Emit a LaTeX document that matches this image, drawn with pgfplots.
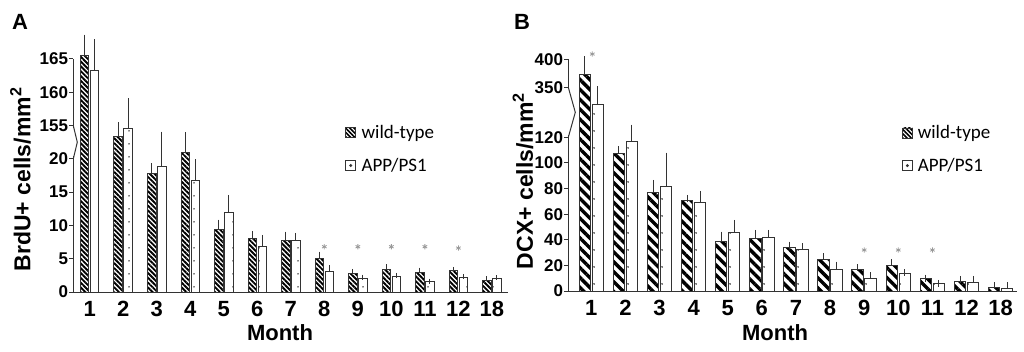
\documentclass[border=0pt]{standalone}
\usepackage{pgfplots}
\pgfplotsset{compat=1.18}
\usepackage{fontspec}
\setmainfont{Liberation Sans}
\newfontfamily\calibri{Carlito}
\usetikzlibrary{patterns.meta}
\definecolor{ax}{gray}{0.2}
\pgfplotsset{
  panel/.style={
    scale only axis, clip=false,
    axis x line*=bottom, axis y line*=left,
    axis line style={line width=1pt, ax},
    tick align=outside, major tick length=4pt,
    ytick style={line width=1pt, ax},
    xtick style={draw=none},
    /pgf/number format/assume math mode=true,
    xtick={0,...,12}, xticklabels={1,2,3,4,5,6,7,8,9,10,11,12,18},
    xticklabel style={font=\bfseries\fontsize{22}{22}\selectfont, inner sep=0pt,
      text height=16pt, text depth=0pt, yshift=-4.5pt},
    yticklabel style={font=\bfseries\fontsize{17}{17}\selectfont, inner sep=0pt, xshift=-1pt},
    xlabel style={font=\bfseries\fontsize{22}{22}\selectfont},
    ylabel style={font=\bfseries\fontsize{23}{23}\selectfont},
    legend style={draw=none, fill=none, inner sep=0pt, outer sep=0pt,
      nodes={inner sep=0pt}, row sep=18pt, column sep=5pt,
      font=\calibri\fontsize{19}{19}\selectfont},
    legend cell align=left,
  },
  errA/.style={error bars/.cd, y dir=plus, y explicit,
    error bar style={line width=1pt, ax},
    error mark options={line width=1pt, mark size=2.5pt, ax}},
  errB/.style={error bars/.cd, y dir=plus, y explicit,
    error bar style={line width=1pt, ax},
    error mark options={line width=1pt, mark size=3.5pt, ax}},
}
\begin{document}
\begin{tikzpicture}[x=1pt,y=1pt]
\path[use as bounding box] (0,0) rectangle (1024,351);
\node[anchor=base west, font=\bfseries\fontsize{22}{22}\selectfont, inner sep=0pt] at (12,321) {A};
\node[anchor=base west, font=\bfseries\fontsize{22}{22}\selectfont, inner sep=0pt] at (514,321) {B};

% ---------------- Panel A ----------------
\begin{axis}[panel,
  at={(73.3pt,59pt)}, anchor=south west,
  width=434.7pt, height=233pt,
  ybar=1.5pt, bar width=8.5pt,
  xmin=-0.49, xmax=12.48, ymin=0, ymax=35,
  ytick={0,5,10,15,20,25,30,35},
  yticklabels={0,5,10,15,20,155,160,165},
  ylabel={BrdU+ cells/mm\textsuperscript{2}},
  ylabel style={at={(axis description cs:-0.0985,0.483)}, anchor=base},
  xlabel={Month},
  xlabel style={at={(axis description cs:0.4755,-0.209)}, anchor=base},
  legend style={at={(axis description cs:0.625,0.7146)}, anchor=north west},
]
\addplot[draw=ax, line width=1pt,
  pattern={Lines[angle=-45,distance=3.4pt,line width=1.9pt]},
  legend image code/.code={\draw[ax, line width=0.8pt, pattern={Lines[angle=-45,distance=3pt,line width=1.6pt]}] (0pt,-5pt) rectangle (10pt,5pt);},
  errA]
coordinates {
(0,35.6) +- (0,2.7)
(1,23.4) +- (0,1.7)
(2,17.8) +- (0,1.2)
(3,21.0) +- (0,2.6)
(4,9.4) +- (0,1.1)
(5,8.0) +- (0,0.8)
(6,7.8) +- (0,0.9)
(7,5.1) +- (0,0.6)
(8,2.8) +- (0,0.3)
(9,3.4) +- (0,0.4)
(10,2.9) +- (0,0.4)
(11,3.2) +- (0,0.2)
(12,1.8) +- (0,0.2)
};
\addlegendentry{wild-type}
\addplot[draw=ax, line width=1pt,
  pattern={Dots[distance=13pt,radius=0.8pt]},
  legend image code/.code={\draw[ax, line width=0.8pt, fill=white] (0pt,-5pt) rectangle (10pt,5pt); \fill[ax] (5pt,0pt) circle (0.9pt);},
  errA]
coordinates {
(0,33.2) +- (0,4.4)
(1,24.5) +- (0,4.2)
(2,18.8) +- (0,4.9)
(3,16.8) +- (0,2.8)
(4,12.0) +- (0,2.2)
(5,6.9) +- (0,1.3)
(6,7.7) +- (0,0.8)
(7,3.05) +- (0,0.6)
(8,2.05) +- (0,0.2)
(9,2.3) +- (0,0.2)
(10,1.55) +- (0,0.1)
(11,2.2) +- (0,0.15)
(12,2.0) +- (0,0.15)
};
\addlegendentry{APP/PS1}
\addplot[forget plot, sharp plot, only marks, mark=asterisk, mark size=2.6pt, gray!80, line width=0.8pt]
coordinates {(7,6.8) (8,6.8) (9,6.8) (10,6.8) (11,6.6)};
\draw[white, line width=3pt] (axis cs:-0.49,20.4) -- (axis cs:-0.49,24.6);
\draw[ax, line width=1pt] (axis cs:-0.49,25) -- ([xshift=4pt]axis cs:-0.49,22.5) -- (axis cs:-0.49,20);
\end{axis}

% ---------------- Panel B ----------------
\begin{axis}[panel,
  at={(568.3pt,60pt)}, anchor=south west,
  width=448.7pt, height=231.7pt,
  ybar=1.5pt, bar width=11.5pt,
  xmin=-0.674, xmax=12.48, ymin=0, ymax=180.9,
  ytick={0,20,40,60,80,100,120,159,180.9},
  yticklabels={0,20,40,60,80,100,120,350,400},
  ylabel={DCX+ cells/mm\textsuperscript{2}},
  ylabel style={at={(axis description cs:-0.0787,0.4748)}, anchor=base},
  xlabel={Month},
  xlabel style={at={(axis description cs:0.4607,-0.2145)}, anchor=base},
  legend style={at={(axis description cs:0.7437,0.714)}, anchor=north west},
]
\addplot[draw=ax, line width=1pt,
  pattern={Lines[angle=-45,distance=7pt,line width=3.4pt]},
  legend image code/.code={\draw[ax, line width=0.8pt, pattern={Lines[angle=-45,distance=3pt,line width=1.6pt]}] (0pt,-5pt) rectangle (10pt,5pt);},
  errB]
coordinates {
(0,169.4) +- (0,11.2)
(1,107.5) +- (0,2.6)
(2,77.0) +- (0,7.1)
(3,70.5) +- (0,1.9)
(4,38.5) +- (0,5.2)
(5,41.1) +- (0,3.9)
(6,33.8) +- (0,2.1)
(7,24.7) +- (0,2.1)
(8,16.4) +- (0,1.8)
(9,20.3) +- (0,1.8)
(10,9.4) +- (0,0.7)
(11,7.8) +- (0,1.3)
(12,2.6) +- (0,1.5)
};
\addlegendentry{wild-type}
\addplot[draw=ax, line width=1pt,
  pattern={Dots[distance=17pt,radius=0.9pt]},
  legend image code/.code={\draw[ax, line width=0.8pt, fill=white] (0pt,-5pt) rectangle (10pt,5pt); \fill[ax] (5pt,0pt) circle (0.9pt);},
  errB]
coordinates {
(0,146.0) +- (0,11.0)
(1,117.1) +- (0,10.1)
(2,81.4) +- (0,24.0)
(3,69.2) +- (0,6.3)
(4,45.8) +- (0,7.0)
(5,41.9) +- (0,3.1)
(6,32.6) +- (0,2.0)
(7,16.9) +- (0,3.4)
(8,9.9) +- (0,2.0)
(9,13.3) +- (0,0.8)
(10,5.5) +- (0,0.4)
(11,6.8) +- (0,2.3)
(12,2.1) +- (0,2.0)
};
\addlegendentry{APP/PS1}
\addplot[forget plot, sharp plot, only marks, mark=asterisk, mark size=2.6pt, gray!80, line width=0.8pt]
coordinates {(0.03,185) (8,32) (9,32) (10,32)};
\draw[white, line width=3pt] (axis cs:-0.674,121.5) -- (axis cs:-0.674,157.5);
\draw[ax, line width=1pt] (axis cs:-0.674,159) -- ([xshift=7pt]axis cs:-0.674,139.5) -- (axis cs:-0.674,120);
\end{axis}
\end{tikzpicture}
\end{document}
